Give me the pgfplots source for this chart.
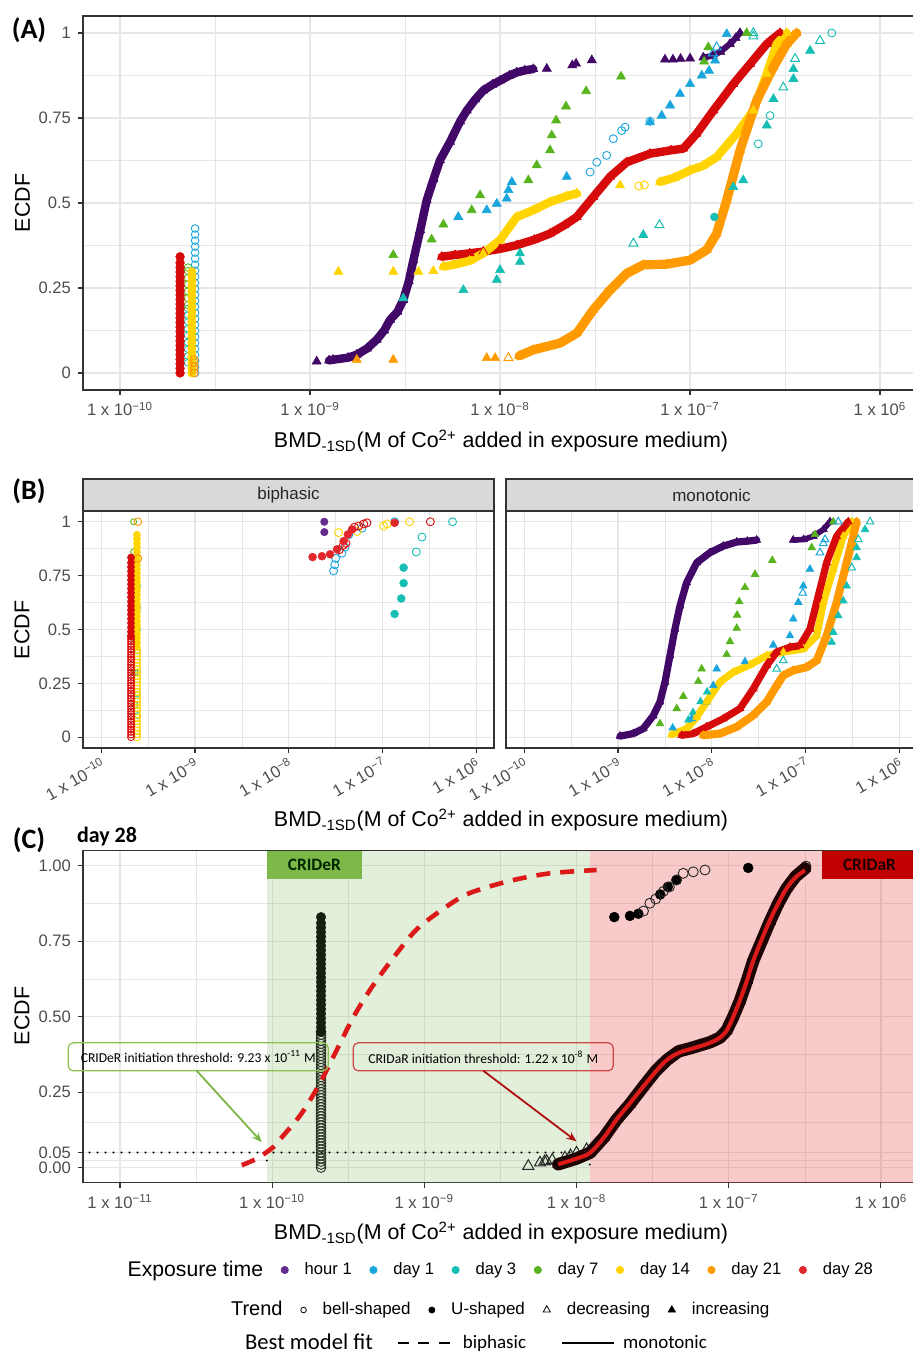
\documentclass[border=0pt]{standalone}
\usepackage{pgfplots}
\pgfplotsset{compat=1.18}
\usepackage{fontspec}
\setmainfont{Liberation Sans}
\newfontfamily\carlito{Carlito}
\usetikzlibrary{arrows.meta}
\definecolor{cH}{HTML}{420868}
\definecolor{cHL}{HTML}{642B8F}
\definecolor{cD1}{HTML}{1AA6DC}
\definecolor{cD3}{HTML}{16BEB3}
\definecolor{cD7}{HTML}{58B41E}
\definecolor{cD14}{HTML}{FFD400}
\definecolor{cD21}{HTML}{FF9A00}
\definecolor{cD28}{HTML}{D60A0A}
\definecolor{cD28L}{HTML}{E3262B}
\definecolor{gGrid}{HTML}{E6E6E6}
\definecolor{gBorder}{HTML}{333333}
\definecolor{gTick}{HTML}{4D4D4D}
\definecolor{gStrip}{HTML}{D9D9D9}
\definecolor{crG}{HTML}{70AD47}
\definecolor{crR}{HTML}{E84040}
\definecolor{labG}{HTML}{7DB948}
\definecolor{labR}{HTML}{C00000}
\definecolor{boxG}{HTML}{8CC152}
\definecolor{boxR}{HTML}{D04545}
\definecolor{arrG}{HTML}{7DB548}
\definecolor{arrR}{HTML}{B00F0F}
\definecolor{fitR}{HTML}{DD1A1A}
\definecolor{colC}{HTML}{17200F}
\definecolor{colCo}{HTML}{2A3322}
\definecolor{bandC}{HTML}{1E0505}
\pgfplotsset{
  gg/.style={scale only axis,
    axis line style={draw=gBorder, line width=0.6pt},
    grid=both,
    major grid style={draw=gGrid, line width=0.6pt},
    minor grid style={draw=gGrid, line width=0.3pt},
    tick align=outside, tick pos=left,
    major tick length=2.5pt, minor tick length=0pt,
    tick style={draw=gBorder, line width=0.55pt},
    every tick label/.append style={font=\fontsize{8.3}{9}\selectfont, text=gTick},
    ymin=-0.05, ymax=1.05},
  band/.style={line width=4.2pt, line join=round, line cap=round, mark=triangle*, mark size=2.6pt, mark options={line width=0.3pt, solid}},
  sc/.style={only marks, mark=triangle*, mark size=2.6pt, mark options={line width=0.3pt}},
  sco/.style={only marks, mark=triangle, mark size=2.6pt, mark options={line width=0.5pt}},
  cf/.style={only marks, mark=*, mark size=2.1pt, mark options={line width=0.2pt}},
  co/.style={only marks, mark=o, mark size=1.9pt, mark options={line width=0.45pt}},
}
\begin{document}
\begin{tikzpicture}
\useasboundingbox (0,0) rectangle (456.5pt,677pt);
%================ PANEL A
\begin{axis}[gg, at={(41.5pt,482pt)}, anchor=south west, width=416pt, height=187pt,
  xmin=-10.195, xmax=-5.816,
  xtick={-10,-9,-8,-7,-6},
  xticklabels={{1 x 10\textsuperscript{−10}},{1 x 10\textsuperscript{−9}},{1 x 10\textsuperscript{−8}},{1 x 10\textsuperscript{−7}},{1 x 10\textsuperscript{6}}},
  minor xtick={-9.5,-8.5,-7.5,-6.5},
  ytick={0,0.25,0.5,0.75,1}, yticklabels={0,0.25,0.5,0.75,1},
  minor ytick={0.125,0.375,0.625,0.875}]
\addplot[co, color=cD3, mark size=1.6pt] coordinates {(-9.645,0.03)(-9.645,0.05)(-9.645,0.07)(-9.645,0.09)(-9.645,0.11)(-9.645,0.13)(-9.645,0.15)(-9.645,0.17)(-9.645,0.19)};
\addplot[co, color=cD7] coordinates {(-9.642,0.20)(-9.642,0.22)(-9.642,0.24)(-9.642,0.26)(-9.642,0.28)(-9.642,0.30)(-9.642,0.31)};
\addplot[co, color=cD1] coordinates {(-9.605,0)(-9.605,0.0177)(-9.605,0.0354)(-9.605,0.0531)(-9.605,0.0708)(-9.605,0.0885)(-9.605,0.1062)(-9.605,0.1239)(-9.605,0.1416)(-9.605,0.1593)(-9.605,0.177)(-9.605,0.1947)(-9.605,0.2124)(-9.605,0.2301)(-9.605,0.2478)(-9.605,0.2655)(-9.605,0.2832)(-9.605,0.3009)(-9.605,0.3186)(-9.605,0.3363)(-9.605,0.354)(-9.605,0.3717)(-9.605,0.3894)(-9.605,0.4071)(-9.605,0.425)};
\addplot[cf, color=cD14] coordinates {(-9.622,0)(-9.622,0.015)(-9.622,0.03)(-9.622,0.045)(-9.622,0.06)(-9.622,0.075)(-9.622,0.09)(-9.622,0.105)(-9.622,0.12)(-9.622,0.135)(-9.622,0.15)(-9.622,0.165)(-9.622,0.18)(-9.622,0.195)(-9.622,0.21)(-9.622,0.225)(-9.622,0.24)(-9.622,0.255)(-9.622,0.27)(-9.622,0.285)(-9.622,0.298)};
\addplot[co, color=cD21] coordinates {(-9.609,0)(-9.609,0.01)(-9.609,0.02)(-9.609,0.03)(-9.609,0.04)};
\addplot[cf, color=cD28, mark size=2.2pt] coordinates {(-9.684,0)(-9.684,0.0135)(-9.684,0.027)(-9.684,0.0405)(-9.684,0.054)(-9.684,0.0675)(-9.684,0.081)(-9.684,0.0945)(-9.684,0.108)(-9.684,0.1215)(-9.684,0.135)(-9.684,0.1485)(-9.684,0.162)(-9.684,0.1755)(-9.684,0.189)(-9.684,0.2025)(-9.684,0.216)(-9.684,0.2295)(-9.684,0.243)(-9.684,0.2565)(-9.684,0.27)(-9.684,0.2835)(-9.684,0.297)(-9.684,0.3105)(-9.684,0.324)(-9.684,0.342)};
% hour 1
\addplot[sc, color=cH] coordinates {(-8.965,0.034)(-7.754,0.895)(-7.62,0.905)(-7.60,0.91)(-7.517,0.92)(-7.132,0.922)(-7.09,0.922)(-7.05,0.924)(-7.0,0.925)};
\addplot[band, color=cH] coordinates {(-8.90,0.037)(-8.879,0.039)(-8.80,0.045)(-8.754,0.054)(-8.70,0.072)(-8.649,0.098)(-8.61,0.125)(-8.579,0.156)(-8.54,0.18)(-8.509,0.215)(-8.48,0.27)(-8.456,0.332)(-8.42,0.42)(-8.386,0.508)(-8.35,0.57)(-8.316,0.626)(-8.263,0.68)(-8.21,0.74)(-8.175,0.772)(-8.13,0.805)(-8.088,0.831)(-8.04,0.848)(-8.0,0.86)(-7.95,0.875)(-7.912,0.884)(-7.87,0.89)(-7.825,0.894)};
\addplot[band, color=cH, line width=3pt] coordinates {(-6.93,0.928)(-6.88,0.933)(-6.84,0.945)(-6.79,0.968)(-6.76,0.985)(-6.737,1.0)};
% day 1
\addplot[sc, color=cD1] coordinates {(-8.22,0.459)(-8.07,0.479)(-8.017,0.498)(-7.965,0.513)(-7.956,0.538)(-7.938,0.562)(-7.649,0.577)(-7.211,0.738)(-7.149,0.757)(-7.105,0.787)(-7.053,0.821)(-7.0,0.85)(-6.938,0.875)(-6.90,0.889)(-6.868,0.919)(-6.807,0.997)};
\addplot[co, color=cD1, mark size=2pt] coordinates {(-7.526,0.591)(-7.491,0.62)(-7.439,0.64)(-7.404,0.689)(-7.36,0.713)(-7.342,0.723)(-7.211,0.74)};
\addplot[sco, color=cD1] coordinates {(-6.86,0.958)(-6.88,0.94)};
% day 3
\addplot[sc, color=cD3] coordinates {(-8.509,0.22)(-8.193,0.244)(-8.017,0.274)(-8.0,0.303)(-7.895,0.327)(-7.895,0.352)(-7.246,0.406)(-6.772,0.547)(-6.72,0.567)(-6.596,0.728)(-6.561,0.806)(-6.456,0.865)(-6.456,0.894)(-6.368,0.948)};
\addplot[sco, color=cD3] coordinates {(-7.298,0.381)(-7.161,0.435)(-6.509,0.84)(-6.447,0.924)(-6.316,0.977)(-6.667,0.99)(-6.667,1.0)};
\addplot[co, color=cD3, mark size=2pt] coordinates {(-6.641,0.674)(-6.579,0.757)(-6.254,1.0)};
\addplot[cf, color=cD3, mark size=2pt] coordinates {(-6.872,0.459)};
% day 7
\addplot[sc, color=cD7] coordinates {(-8.562,0.347)(-8.36,0.393)(-8.298,0.437)(-8.149,0.479)(-8.105,0.523)(-7.851,0.567)(-7.807,0.611)(-7.737,0.655)(-7.728,0.699)(-7.705,0.743)(-7.653,0.784)(-7.547,0.829)(-7.363,0.872)(-6.926,0.916)(-6.904,0.958)(-6.702,1.0)};
% day 28
\addplot[band, color=cD28] coordinates {(-8.307,0.342)(-8.237,0.347)(-8.16,0.352)(-8.088,0.357)(-8.0,0.365)(-7.912,0.376)(-7.82,0.392)(-7.737,0.41)(-7.66,0.435)(-7.596,0.459)(-7.509,0.518)(-7.421,0.577)(-7.333,0.62)(-7.211,0.645)(-7.10,0.655)(-7.035,0.66)(-6.965,0.704)(-6.877,0.772)(-6.772,0.85)(-6.684,0.909)(-6.596,0.968)(-6.526,1.0)};
% day 14
\addplot[sc, color=cD14] coordinates {(-8.851,0.298)(-8.562,0.298)(-8.43,0.298)(-8.351,0.30)(-7.368,0.552)};
\addplot[co, color=cD14, mark size=2pt] coordinates {(-7.27,0.55)(-7.24,0.553)};
\addplot[band, color=cD14] coordinates {(-8.298,0.313)(-8.246,0.318)(-8.16,0.33)(-8.088,0.352)(-8.0,0.391)(-7.912,0.459)(-7.825,0.479)(-7.737,0.503)(-7.65,0.52)(-7.596,0.528)};
\addplot[band, color=cD14] coordinates {(-7.158,0.562)(-7.08,0.575)(-7.0,0.596)(-6.93,0.61)(-6.86,0.635)(-6.754,0.704)(-6.667,0.772)(-6.596,0.88)(-6.544,0.968)(-6.491,1.0)};
% day 21
\addplot[sc, color=cD21] coordinates {(-8.754,0.039)(-8.562,0.039)(-8.07,0.044)(-8.026,0.044)};
\addplot[sco, color=cD21] coordinates {(-7.956,0.044)};
\addplot[band, color=cD21, line width=4.6pt] coordinates {(-7.9,0.05)(-7.825,0.068)(-7.684,0.088)(-7.596,0.117)(-7.509,0.186)(-7.421,0.244)(-7.333,0.293)(-7.246,0.318)(-7.123,0.32)(-7.0,0.332)(-6.912,0.362)(-6.86,0.41)(-6.807,0.508)(-6.737,0.655)(-6.649,0.802)(-6.561,0.9)(-6.491,0.968)(-6.439,1.0)};
\end{axis}
%================ PANEL B left
\begin{axis}[gg, at={(41.5pt,303pt)}, anchor=south west, width=205.5pt, height=118.5pt,
  xmin=-10.195, xmax=-5.811,
  xtick={-10,-9,-8,-7,-6},
  xticklabels={{1 x 10\textsuperscript{−10}},{1 x 10\textsuperscript{−9}},{1 x 10\textsuperscript{−8}},{1 x 10\textsuperscript{−7}},{1 x 10\textsuperscript{6}}},
  xticklabel style={rotate=30, anchor=north east, inner sep=1pt},
  minor xtick={-9.5,-8.5,-7.5,-6.5},
  ytick={0,0.25,0.5,0.75,1}, yticklabels={0,0.25,0.5,0.75,1},
  minor ytick={0.125,0.375,0.625,0.875}]
\addplot[co, color=cD3, mark size=1.5pt] coordinates {(-9.612,0.1)(-9.612,0.2)(-9.612,0.3)(-9.612,0.4)(-9.612,0.5)(-9.612,0.6)(-9.612,0.7)};
\addplot[co, color=cD7, mark size=1.5pt] coordinates {(-9.64,0.15)(-9.64,0.3)(-9.64,0.45)(-9.64,0.6)(-9.655,0.86)(-9.655,1.0)};
\addplot[co, color=cD14, mark size=1.8pt] coordinates {(-9.619,0)(-9.619,0.015)(-9.619,0.03)(-9.619,0.045)(-9.619,0.06)(-9.619,0.075)(-9.619,0.09)(-9.619,0.105)(-9.619,0.12)(-9.619,0.135)(-9.619,0.15)(-9.619,0.165)(-9.619,0.18)(-9.619,0.195)(-9.619,0.21)(-9.619,0.225)(-9.619,0.24)(-9.619,0.255)(-9.619,0.27)(-9.619,0.285)(-9.619,0.30)(-9.619,0.315)(-9.619,0.33)(-9.619,0.345)(-9.619,0.36)(-9.619,0.375)(-9.619,0.39)(-9.619,0.405)};
\addplot[cf, color=cD14, mark size=1.8pt] coordinates {(-9.619,0.42)(-9.619,0.44)(-9.619,0.46)(-9.619,0.48)(-9.619,0.50)(-9.619,0.52)(-9.619,0.54)(-9.619,0.56)(-9.619,0.58)(-9.619,0.60)(-9.619,0.62)(-9.619,0.64)(-9.619,0.66)(-9.619,0.68)(-9.619,0.70)(-9.619,0.72)(-9.619,0.74)(-9.619,0.76)(-9.619,0.78)(-9.619,0.80)(-9.619,0.82)(-9.619,0.84)(-9.619,0.86)(-9.619,0.88)(-9.619,0.90)(-9.619,0.92)(-9.619,0.94)};
\addplot[co, color=cD21, mark size=1.9pt] coordinates {(-9.609,0.83)(-9.609,1.0)};
\addplot[co, color=cD28, mark size=1.7pt] coordinates {(-9.683,0)(-9.683,0.012)(-9.683,0.024)(-9.683,0.036)(-9.683,0.048)(-9.683,0.06)(-9.683,0.072)(-9.683,0.084)(-9.683,0.096)(-9.683,0.108)(-9.683,0.12)(-9.683,0.132)(-9.683,0.144)(-9.683,0.156)(-9.683,0.168)(-9.683,0.18)(-9.683,0.192)(-9.683,0.204)(-9.683,0.216)(-9.683,0.228)(-9.683,0.24)(-9.683,0.252)(-9.683,0.264)(-9.683,0.276)(-9.683,0.288)(-9.683,0.30)(-9.683,0.312)(-9.683,0.324)(-9.683,0.336)(-9.683,0.348)(-9.683,0.36)(-9.683,0.372)(-9.683,0.384)(-9.683,0.396)(-9.683,0.408)(-9.683,0.42)(-9.683,0.432)(-9.683,0.444)(-9.683,0.456)(-9.683,0.468)};
\addplot[cf, color=cD28, mark size=1.8pt] coordinates {(-9.683,0.47)(-9.683,0.49)(-9.683,0.51)(-9.683,0.53)(-9.683,0.55)(-9.683,0.57)(-9.683,0.59)(-9.683,0.61)(-9.683,0.63)(-9.683,0.65)(-9.683,0.67)(-9.683,0.69)(-9.683,0.71)(-9.683,0.73)(-9.683,0.75)(-9.683,0.77)(-9.683,0.79)(-9.683,0.81)(-9.683,0.834)};
\addplot[cf, color=cHL, mark size=1.9pt] coordinates {(-7.621,1.0)(-7.621,0.952)};
\addplot[co, color=cD1, mark size=2pt] coordinates {(-7.522,0.772)(-7.51,0.80)(-7.50,0.83)(-7.433,0.854)(-7.40,0.882)(-7.36,0.94)(-7.219,0.97)(-6.871,1.0)};
\addplot[co, color=cD14, mark size=2pt] coordinates {(-7.469,0.95)(-7.27,0.955)(-6.989,0.98)(-6.95,0.99)(-6.711,1.0)};
\addplot[co, color=cD28, mark size=2pt] coordinates {(-7.46,0.87)(-7.42,0.89)(-7.39,0.90)(-7.30,0.975)(-7.255,0.98)(-7.20,0.99)(-7.166,0.995)(-6.49,1.0)};
\addplot[cf, color=cD28L, mark size=2pt] coordinates {(-7.746,0.836)(-7.646,0.84)(-7.56,0.849)(-7.486,0.872)(-7.415,0.91)(-7.37,0.941)(-7.326,0.964)(-6.871,0.995)};
\addplot[cf, color=cD3, mark size=2pt] coordinates {(-6.871,0.572)(-6.8,0.644)(-6.775,0.715)(-6.775,0.787)};
\addplot[co, color=cD3, mark size=2pt] coordinates {(-6.64,0.86)(-6.579,0.929)(-6.253,1.0)};
\end{axis}
%================ PANEL B right
\begin{axis}[gg, at={(253pt,303pt)}, anchor=south west, width=205.5pt, height=118.5pt,
  xmin=-10.195, xmax=-5.811,
  xtick={-10,-9,-8,-7,-6},
  xticklabels={{1 x 10\textsuperscript{−10}},{1 x 10\textsuperscript{−9}},{1 x 10\textsuperscript{−8}},{1 x 10\textsuperscript{−7}},{1 x 10\textsuperscript{6}}},
  xticklabel style={rotate=30, anchor=north east, inner sep=1pt},
  minor xtick={-9.5,-8.5,-7.5,-6.5},
  ytick={0,0.25,0.5,0.75,1}, yticklabels={},
  ytick style={draw=none},
  minor ytick={0.125,0.375,0.625,0.875},
  band/.append style={line width=3.6pt, mark size=2.3pt},
  sc/.append style={mark size=2.2pt}, sco/.append style={mark size=2.2pt}]
\addplot[band, color=cH] coordinates {(-8.979,0.005)(-8.837,0.017)(-8.731,0.04)(-8.624,0.1)(-8.553,0.164)(-8.499,0.256)(-8.446,0.379)(-8.393,0.502)(-8.339,0.61)(-8.268,0.718)(-8.161,0.81)(-8.019,0.857)(-7.877,0.887)(-7.734,0.906)(-7.62,0.91)(-7.521,0.915)};
\addplot[band, color=cH, line width=2.8pt] coordinates {(-7.131,0.915)(-7.02,0.918)(-6.917,0.933)(-6.81,0.964)(-6.739,1.0)};
\addplot[sc, color=cD7] coordinates {(-8.553,0.063)(-8.374,0.133)(-8.304,0.19)(-8.144,0.259)(-8.108,0.317)(-7.841,0.384)(-7.806,0.444)(-7.734,0.506)(-7.73,0.567)(-7.707,0.629)(-7.646,0.695)(-7.539,0.756)(-7.355,0.821)(-6.934,0.88)(-6.899,0.941)(-6.704,1.0)};
\addplot[sc, color=cD3] coordinates {(-8.25,0.08)(-8.2,0.115)(-8.12,0.165)(-8.05,0.21)(-6.721,0.441)(-6.704,0.487)(-6.651,0.564)(-6.597,0.633)(-6.561,0.702)(-6.455,0.834)(-6.455,0.88)(-6.366,0.964)};
\addplot[sco, color=cD3] coordinates {(-7.308,0.317)(-7.237,0.356)(-6.508,0.787)(-6.437,0.918)(-6.312,1.0)};
\addplot[sc, color=cD1] coordinates {(-8.417,0.043)(-8.214,0.086)(-8.054,0.164)(-7.984,0.24)(-7.948,0.317)(-7.646,0.351)(-7.344,0.428)(-7.166,0.471)(-7.131,0.549)(-7.077,0.626)(-7.024,0.702)(-6.953,0.78)};
\addplot[sco, color=cD1] coordinates {(-7.03,0.67)(-6.846,0.857)(-6.81,0.9)(-6.792,0.918)(-6.651,1.0)};
\addplot[band, color=cD14] coordinates {(-8.428,0.012)(-8.268,0.04)(-8.161,0.094)(-8.054,0.164)(-7.912,0.256)(-7.77,0.302)(-7.592,0.336)(-7.414,0.379)(-7.237,0.395)(-7.024,0.41)(-6.881,0.471)(-6.81,0.626)(-6.704,0.78)(-6.597,0.933)(-6.508,1.0)};
\addplot[band, color=cD28] coordinates {(-8.321,0.009)(-8.197,0.017)(-8.054,0.048)(-7.877,0.086)(-7.699,0.133)(-7.557,0.225)(-7.414,0.333)(-7.308,0.395)(-7.166,0.418)(-7.059,0.425)(-6.953,0.502)(-6.864,0.656)(-6.775,0.81)(-6.668,0.933)(-6.544,1.0)};
\addplot[band, color=cD21, line width=4pt] coordinates {(-8.091,0.009)(-7.912,0.017)(-7.734,0.048)(-7.557,0.102)(-7.414,0.164)(-7.308,0.24)(-7.237,0.287)(-7.131,0.31)(-6.988,0.325)(-6.881,0.356)(-6.775,0.471)(-6.668,0.626)(-6.579,0.78)(-6.508,0.903)(-6.455,1.0)};
\end{axis}
%================ PANEL C
\begin{axis}[gg, at={(41.5pt,85.65pt)}, anchor=south west, width=416pt, height=166pt,
  clip mode=individual,
  xmin=-11.243, xmax=-5.776,
  xtick={-11,-10,-9,-8,-7,-6},
  xticklabels={{1 x 10\textsuperscript{−11}},{1 x 10\textsuperscript{−10}},{1 x 10\textsuperscript{−9}},{1 x 10\textsuperscript{−8}},{1 x 10\textsuperscript{−7}},{1 x 10\textsuperscript{6}}},
  minor xtick={-10.5,-9.5,-8.5,-7.5,-6.5},
  ytick={0,0.05,0.25,0.5,0.75,1}, yticklabels={0.00,0.05,0.25,0.50,0.75,1.00},
  minor ytick={0.025,0.15,0.375,0.625,0.875}]
\addplot[draw=none, fill=crG, fill opacity=0.2] coordinates {(-10.035,-0.05)(-7.9136,-0.05)(-7.9136,1.05)(-10.035,1.05)} -- cycle;
\addplot[draw=none, fill=crR, fill opacity=0.28] coordinates {(-7.9136,-0.05)(-5.7,-0.05)(-5.7,1.05)(-7.9136,1.05)} -- cycle;
\fill[labG] (-10.035,0.955) rectangle (-9.41,1.05);
\node[font=\carlito\bfseries\fontsize{8.7}{10}\selectfont, text=black!85!green] at (-9.7225,1.003) {CRIDeR};
\fill[labR] (-6.39,0.955) rectangle (-5.776,1.05);
\node[font=\carlito\bfseries\fontsize{8.7}{10}\selectfont, text=black!90!red] at (-6.075,1.003) {CRIDaR};
% dotted lines
\draw[line width=1.1pt, line cap=round, dash pattern=on 0pt off 4pt] (-11.2,0.05) -- (-7.9136,0.05);
\draw[line width=1.1pt, line cap=round, dash pattern=on 0pt off 4pt] (-10.035,0.05) -- (-10.035,0);
\draw[line width=1.1pt, line cap=round, dash pattern=on 0pt off 4pt] (-7.9136,0.01) -- (-7.9136,0);
% column
\addplot[co, color=colCo, mark size=2.4pt, mark options={line width=0.45pt}] coordinates {(-9.679,0)(-9.679,0.01)(-9.679,0.02)(-9.679,0.03)(-9.679,0.04)(-9.679,0.05)(-9.679,0.06)(-9.679,0.07)(-9.679,0.08)(-9.679,0.09)(-9.679,0.10)(-9.679,0.11)(-9.679,0.12)(-9.679,0.13)(-9.679,0.14)(-9.679,0.15)(-9.679,0.16)(-9.679,0.17)(-9.679,0.18)(-9.679,0.19)(-9.679,0.20)(-9.679,0.21)(-9.679,0.22)(-9.679,0.23)(-9.679,0.24)(-9.679,0.25)(-9.679,0.26)(-9.679,0.27)(-9.679,0.28)(-9.679,0.29)(-9.679,0.30)(-9.679,0.31)(-9.679,0.32)(-9.679,0.33)(-9.679,0.34)(-9.679,0.35)(-9.679,0.36)(-9.679,0.37)(-9.679,0.38)(-9.679,0.39)(-9.679,0.40)(-9.679,0.41)(-9.679,0.42)(-9.679,0.43)(-9.679,0.44)(-9.679,0.45)};
\addplot[cf, color=colC, mark size=2.4pt] coordinates {(-9.679,0.45)(-9.679,0.465)(-9.679,0.48)(-9.679,0.495)(-9.679,0.51)(-9.679,0.525)(-9.679,0.54)(-9.679,0.555)(-9.679,0.57)(-9.679,0.585)(-9.679,0.60)(-9.679,0.615)(-9.679,0.63)(-9.679,0.645)(-9.679,0.66)(-9.679,0.675)(-9.679,0.69)(-9.679,0.705)(-9.679,0.72)(-9.679,0.735)(-9.679,0.75)(-9.679,0.765)(-9.679,0.78)(-9.679,0.795)(-9.679,0.81)(-9.679,0.83)};
% decreasing (open triangles)
\addplot[sco, color=black!85, mark size=3.2pt] coordinates {(-8.317,0.005)(-8.24,0.016)(-8.21,0.02)(-8.197,0.022)(-8.16,0.025)(-8.076,0.033)(-8.04,0.04)(-8.0,0.049)(-7.934,0.06)};
% U-shaped and bell-shaped
\addplot[cf, color=black, mark size=2.5pt] coordinates {(-7.752,0.83)(-7.649,0.834)(-7.594,0.841)(-7.45,0.905)(-7.40,0.93)(-7.343,0.953)(-6.872,0.993)};
\addplot[co, color=black!85, mark size=2.5pt] coordinates {(-7.56,0.85)(-7.518,0.876)(-7.48,0.89)(-7.43,0.915)(-7.39,0.93)(-7.343,0.953)(-7.299,0.975)(-7.233,0.98)(-7.156,0.986)(-6.493,0.999)};
% increasing band
\addplot[band, color=bandC, line width=6.2pt, mark size=3.2pt] coordinates {(-8.12,0.011)(-8.0,0.03)(-7.912,0.049)(-7.82,0.10)(-7.737,0.159)(-7.65,0.21)(-7.562,0.268)(-7.48,0.32)(-7.408,0.356)(-7.33,0.385)(-7.255,0.395)(-7.19,0.405)(-7.124,0.415)(-7.06,0.43)(-7.014,0.454)(-6.97,0.50)(-6.926,0.553)(-6.88,0.62)(-6.839,0.685)(-6.78,0.755)(-6.729,0.816)(-6.675,0.875)(-6.62,0.925)(-6.56,0.965)(-6.499,0.991)};
% fits
\addplot[color=fitR, line width=2pt, smooth, tension=0.6] coordinates {(-8.12,0.011)(-8.0,0.03)(-7.912,0.049)(-7.82,0.10)(-7.737,0.159)(-7.65,0.213)(-7.562,0.268)(-7.48,0.318)(-7.408,0.356)(-7.33,0.38)(-7.255,0.392)(-7.19,0.402)(-7.124,0.413)(-7.06,0.43)(-7.014,0.454)(-6.97,0.50)(-6.926,0.555)(-6.88,0.62)(-6.839,0.685)(-6.78,0.76)(-6.729,0.82)(-6.675,0.875)(-6.62,0.925)(-6.56,0.962)(-6.499,0.985)};
\addplot[color=fitR, line width=2.3pt, dash pattern=on 7pt off 5pt, smooth] coordinates {(-10.20,0.008)(-10.10,0.03)(-9.997,0.066)(-9.949,0.093)(-9.806,0.18)(-9.686,0.28)(-9.576,0.389)(-9.467,0.498)(-9.346,0.597)(-9.204,0.695)(-9.051,0.789)(-8.854,0.865)(-8.70,0.91)(-8.438,0.95)(-8.175,0.975)(-7.868,0.986)};
% annotation boxes
\node[draw=boxG, line width=0.6pt, rounded corners=2.5pt, minimum width=130pt, minimum height=14pt, inner sep=1pt, font=\carlito\fontsize{6.8}{8}\selectfont] at (-10.486,0.367) {CRIDeR initiation threshold: 9.23 x 10\textsuperscript{-11} M};
\node[draw=boxR, line width=0.6pt, rounded corners=2.5pt, minimum width=130pt, minimum height=14pt, inner sep=1pt, font=\carlito\fontsize{6.8}{8}\selectfont] at (-8.613,0.367) {CRIDaR initiation threshold: 1.22 x 10\textsuperscript{-8} M};
\draw[arrG, line width=0.9pt, -{Stealth[length=5pt,width=4pt]}] (-10.496,0.321) -- (-10.068,0.084);
\draw[arrR, line width=0.9pt, -{Stealth[length=5pt,width=4pt]}] (-8.613,0.321) -- (-8.0,0.087);
\end{axis}
%================ strips and texts
\draw[fill=gStrip, draw=gBorder, line width=0.6pt] (41.5pt,421.5pt) rectangle (247pt,437.5pt);
\node[font=\fontsize{8.5}{10}\selectfont, text=black!85] at (144.25pt,429.5pt) {biphasic};
\draw[fill=gStrip, draw=gBorder, line width=0.6pt] (253pt,421.5pt) rectangle (458.5pt,437.5pt);
\node[font=\fontsize{8.5}{10}\selectfont, text=black!85] at (355.75pt,429.5pt) {monotonic};
\node[font=\carlito\bfseries\fontsize{14}{16}\selectfont] at (14.5pt,662pt) {(A)};
\node[font=\carlito\bfseries\fontsize{14}{16}\selectfont] at (14.5pt,431.5pt) {(B)};
\node[font=\carlito\bfseries\fontsize{14}{16}\selectfont] at (14.5pt,257pt) {(C)};
\node[font=\carlito\bfseries\fontsize{11}{13}\selectfont] at (53.5pt,258.5pt) {day 28};
\node[rotate=90, font=\fontsize{10.7}{12}\selectfont] at (11.25pt,575.5pt) {ECDF};
\node[rotate=90, font=\fontsize{10.7}{12}\selectfont] at (11pt,362pt) {ECDF};
\node[rotate=90, font=\fontsize{10.7}{12}\selectfont] at (11pt,169pt) {ECDF};
\node[anchor=base, font=\fontsize{10.7}{12}\selectfont] at (250.5pt,453pt) {BMD\textsubscript{-1SD}(M of Co\textsuperscript{2+} added in exposure medium)};
\node[anchor=base, font=\fontsize{10.7}{12}\selectfont] at (250.5pt,263.5pt) {BMD\textsubscript{-1SD}(M of Co\textsuperscript{2+} added in exposure medium)};
\node[anchor=base, font=\fontsize{10.7}{12}\selectfont] at (250.5pt,57pt) {BMD\textsubscript{-1SD}(M of Co\textsuperscript{2+} added in exposure medium)};
%================ legends
\begin{axis}[at={(246.75pt,42pt)}, anchor=center, hide axis, scale only axis, width=1pt, height=1pt, xmin=0, xmax=1, ymin=0, ymax=1,
  legend columns=-1,
  legend style={at={(0.5,0.5)}, anchor=center, draw=none, fill=none, inner sep=0pt, font=\fontsize{8.3}{10}\selectfont, nodes={inner sep=1.5pt}, /tikz/every odd column/.style={column sep=6.7pt}, /tikz/every even column/.style={column sep=7.5pt}, /tikz/column 1/.style={column sep=0pt}, /tikz/column 2/.style={column sep=6.7pt}}]
\addlegendimage{empty legend}\addlegendentry{\fontsize{10.6}{12}\selectfont Exposure time}
\addlegendimage{only marks, mark=*, mark size=1.8pt, color=cHL}\addlegendentry{hour 1}
\addlegendimage{only marks, mark=*, mark size=1.8pt, color=cD1}\addlegendentry{day 1}
\addlegendimage{only marks, mark=*, mark size=1.8pt, color=cD3}\addlegendentry{day 3}
\addlegendimage{only marks, mark=*, mark size=1.8pt, color=cD7}\addlegendentry{day 7}
\addlegendimage{only marks, mark=*, mark size=1.8pt, color=cD14}\addlegendentry{day 14}
\addlegendimage{only marks, mark=*, mark size=1.8pt, color=cD21}\addlegendentry{day 21}
\addlegendimage{only marks, mark=*, mark size=1.8pt, color=cD28L}\addlegendentry{day 28}
\end{axis}
\begin{axis}[at={(246.75pt,22pt)}, anchor=center, hide axis, scale only axis, width=1pt, height=1pt, xmin=0, xmax=1, ymin=0, ymax=1,
  legend columns=-1,
  legend style={at={(0.5,0.5)}, anchor=center, draw=none, fill=none, inner sep=0pt, font=\fontsize{8.5}{10}\selectfont, nodes={inner sep=1.5pt}, /tikz/every odd column/.style={column sep=6.7pt}, /tikz/every even column/.style={column sep=7.6pt}, /tikz/column 1/.style={column sep=0pt}, /tikz/column 2/.style={column sep=7.3pt}}]
\addlegendimage{empty legend}\addlegendentry{\fontsize{10}{12}\selectfont Trend}
\addlegendimage{only marks, mark=o, mark size=1.4pt, black, mark options={line width=0.4pt}}\addlegendentry{bell-shaped}
\addlegendimage{only marks, mark=*, mark size=1.5pt, black}\addlegendentry{U-shaped}
\addlegendimage{only marks, mark=triangle, mark size=2.1pt, black, mark options={line width=0.4pt}}\addlegendentry{decreasing}
\addlegendimage{only marks, mark=triangle*, mark size=2.1pt, black}\addlegendentry{increasing}
\end{axis}
\begin{axis}[at={(238pt,5.5pt)}, anchor=center, hide axis, scale only axis, width=1pt, height=1pt, xmin=0, xmax=1, ymin=0, ymax=1,
  legend columns=-1,
  legend image code/.code={\draw[#1] (0pt,0pt) -- (26pt,0pt);},
  legend style={at={(0.5,0.5)}, anchor=center, draw=none, fill=none, inner sep=0pt, font=\carlito\fontsize{9.5}{11}\selectfont, nodes={inner sep=1.5pt}, /tikz/column 1/.style={column sep=0pt}, /tikz/column 2/.style={column sep=10.5pt}, /tikz/column 3/.style={column sep=4.5pt}, /tikz/column 4/.style={column sep=16pt}, /tikz/column 5/.style={column sep=2.5pt}}]
\addlegendimage{empty legend}\addlegendentry{\fontsize{11.3}{13}\selectfont Best model fit}
\addlegendimage{black, line width=1pt, dash pattern=on 5.5pt off 4.75pt}\addlegendentry{biphasic}
\addlegendimage{black, line width=1pt}\addlegendentry{monotonic}
\end{axis}
\end{tikzpicture}
\end{document}
